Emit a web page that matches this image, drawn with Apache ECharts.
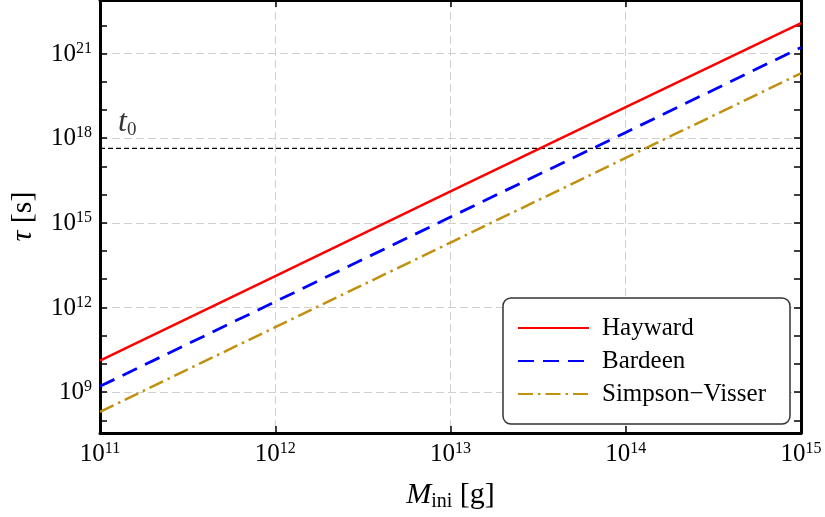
<!DOCTYPE html>
<html>
<head>
<meta charset="utf-8">
<script src="https://cdn.jsdelivr.net/npm/echarts@6/dist/echarts.min.js"></script>
<style>
html, body { margin: 0; padding: 0; background: #fff; }
#chart { width: 825px; height: 517px; }
</style>
</head>
<body>
<div id="chart"></div>
<script>
// initial mass [g]
var massG = [1e11, 1e12, 1e13, 1e14, 1e15];
var haywardS = [1.3e10, 1.3e13, 1.3e16, 1.25e19, 1.2e22];
var bardeenS = [1.6e9, 1.6e12, 1.6e15, 1.6e18, 1.65e21];
var simpsonS = [2.0e8, 2.0e11, 2.0e14, 2.0e17, 2.0e20];
// age of the universe
var t0S = 4.35e17;

var xTickVals = [1e11, 1e12, 1e13, 1e14, 1e15];
var yLabelVals = [1e9, 1e12, 1e15, 1e18, 1e21];
var yTickVals = [1e8, 1e9, 1e10, 1e11, 1e12, 1e13, 1e14, 1e15, 1e16, 1e17, 1e18, 1e19, 1e20, 1e21, 1e22];
// tiny pad so the end decades survive the log round trip
var xMin = 0.999999e11, xMax = 1.000001e15;
var yMin = 3.55e7, yMax = 7.9e22;

var serif = 'Liberation Serif';

function pairs(ys) {
    return massG.map(function (m, i) { return [m, ys[i]]; });
}

var powRich = {
    b: { fontFamily: serif, fontSize: 25, color: '#000', verticalAlign: 'bottom' },
    s: { fontFamily: serif, fontSize: 16, color: '#000', verticalAlign: 'bottom', padding: [0, 0, 10, 0] }
};
function powLabel(v) {
    return '{b|10}{s|' + Math.round(Math.log10(v)) + '}';
}

var frameLine = { show: true, lineStyle: { color: '#000', width: 3 } };
var tickStyle = { color: '#000', width: 1.5 };
var gridDash = { show: true, lineStyle: { color: '#d0d0d0', width: 1, type: [8, 4] } };

var chart = echarts.init(document.getElementById('chart'));

var option = {
    animation: false,
    backgroundColor: '#fff',
    grid: { left: 97, right: 24, top: -3, bottom: 84 },
    xAxis: [{
        type: 'log', min: xMin, max: xMax,
        position: 'bottom',
        axisLine: frameLine,
        axisTick: { show: true, inside: true, length: 7, lineStyle: tickStyle, customValues: xTickVals },
        axisLabel: { margin: 8, formatter: powLabel, rich: powRich, customValues: xTickVals },
        splitLine: gridDash,
        name: '{i|M}{sub|ini}{n| [g]}',
        nameLocation: 'middle',
        nameGap: 47,
        nameTextStyle: {
            rich: {
                i: { fontFamily: serif, fontStyle: 'italic', fontSize: 30, color: '#000', verticalAlign: 'top' },
                sub: { fontFamily: serif, fontSize: 20, color: '#000', verticalAlign: 'top', padding: [12, 0, 0, 0] },
                n: { fontFamily: serif, fontSize: 30, color: '#000', verticalAlign: 'top' }
            }
        }
    }, {
        type: 'log', min: xMin, max: xMax,
        position: 'top',
        axisLine: frameLine,
        axisTick: { show: true, inside: true, length: 7, lineStyle: tickStyle, customValues: xTickVals },
        axisLabel: { show: false },
        splitLine: { show: false }
    }],
    yAxis: [{
        type: 'log', min: yMin, max: yMax,
        position: 'left',
        axisLine: frameLine,
        axisTick: { show: true, inside: true, length: 7, lineStyle: tickStyle, customValues: yTickVals },
        axisLabel: { margin: 8, formatter: powLabel, rich: powRich, customValues: yLabelVals },
        splitLine: { show: false },
        name: '{i|τ}{n| [s]}',
        nameLocation: 'middle',
        nameRotate: 90,
        nameGap: 62,
        nameTextStyle: {
            rich: {
                i: { fontFamily: serif, fontStyle: 'italic', fontSize: 30, color: '#000' },
                n: { fontFamily: serif, fontSize: 30, color: '#000' }
            }
        }
    }, {
        // grid lines only, every third decade
        type: 'log', min: yMin, max: yMax,
        position: 'left',
        axisLine: { show: false },
        axisTick: { show: false, customValues: yLabelVals },
        axisLabel: { show: false },
        splitLine: gridDash
    }, {
        type: 'log', min: yMin, max: yMax,
        position: 'right',
        axisLine: frameLine,
        axisTick: { show: true, inside: true, length: 7, lineStyle: tickStyle, customValues: yTickVals },
        axisLabel: { show: false },
        splitLine: { show: false }
    }],
    legend: {
        data: ['Hayward', 'Bardeen', 'Simpson−Visser'],
        orient: 'vertical',
        left: 503, top: 298,
        padding: [17, 24, 17, 14],
        itemWidth: 71, itemHeight: 14, itemGap: 7,
        backgroundColor: '#fff',
        borderColor: '#333', borderWidth: 1.5, borderRadius: 8,
        itemStyle: { opacity: 0 },
        textStyle: { fontFamily: serif, fontSize: 25, color: '#000', lineHeight: 26, padding: [0, 0, 0, 8] }
    },
    series: [{
        name: 't0',
        type: 'line',
        symbol: 'none',
        silent: true,
        data: [[xMin, t0S], [xMax, t0S]],
        lineStyle: { color: '#000', width: 1.3, type: [5, 3] }
    }, {
        // carries the t0 text above the left end of the dashed line
        name: 't0 label',
        type: 'scatter',
        silent: true,
        symbolSize: 0,
        itemStyle: { color: '#000' },
        data: [[massG[0], t0S]],
        label: {
            show: true, position: 'right', distance: 0, offset: [18, -25],
            formatter: '{t|t}{z|0}',
            color: '#000',
            rich: {
                t: { fontFamily: serif, fontStyle: 'italic', fontSize: 32, color: '#000', verticalAlign: 'top' },
                z: { fontFamily: serif, fontSize: 19, color: '#000', verticalAlign: 'top', padding: [14, 0, 0, 0] }
            }
        }
    }, {
        name: 'Simpson−Visser',
        type: 'line',
        symbol: 'none',
        data: pairs(simpsonS),
        lineStyle: { color: '#c0900f', width: 2.5, type: [15, 5, 2.5, 5] },
        itemStyle: { color: '#c0900f' }
    }, {
        name: 'Bardeen',
        type: 'line',
        symbol: 'none',
        data: pairs(bardeenS),
        lineStyle: { color: '#0000ff', width: 2.8, type: [16, 9] },
        itemStyle: { color: '#0000ff' }
    }, {
        name: 'Hayward',
        type: 'line',
        symbol: 'none',
        data: pairs(haywardS),
        lineStyle: { color: '#ff0000', width: 2.5 },
        itemStyle: { color: '#ff0000' }
    }]
};

chart.setOption(option);
</script>
</body>
</html>
